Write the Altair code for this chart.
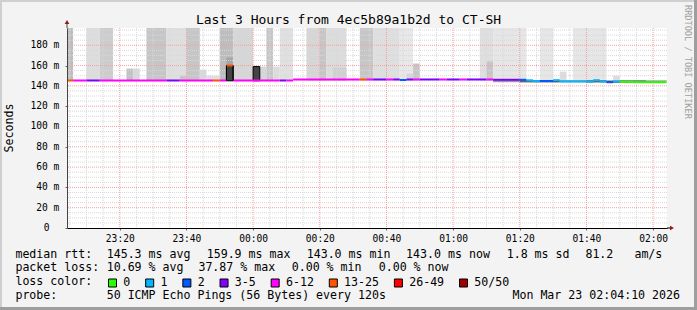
import altair as alt
import pandas as pd

FONT = "DejaVu Sans Mono"
Y_MAX = 197                 # top of the value axis (ms)
T_START = "23:04:10"
T_END = "02:04:10"

# ---------------- smoke (gray RTT spread) ----------------
smoke_start = ["23:04", "23:10", "23:14", "23:22", "23:24", "23:28", "23:34", "23:38", "23:40",
               "23:44", "23:46", "23:50", "23:52", "23:52", "23:54", "00:00", "00:02", "00:04",
               "00:06", "00:08", "00:16", "00:20", "00:22", "00:24", "00:32", "00:36", "00:44",
               "00:46", "00:48", "01:08", "01:10", "01:12", "01:26", "01:32", "01:36", "01:48"]
smoke_end = ["23:06", "23:14", "23:18", "23:24", "23:26", "23:34", "23:40", "23:40", "23:44",
             "23:46", "23:50", "23:54", "23:54", "23:54", "00:00", "00:02", "00:04", "00:06",
             "00:08", "00:12", "00:20", "00:22", "00:28", "00:28", "00:36", "00:44", "00:48",
             "00:48", "00:50", "01:12", "01:12", "01:22", "01:30", "01:34", "01:46", "01:50"]
smoke_lo = [145] * 36
smoke_hi = [200, 200, 200, 157, 157, 200, 200, 150, 200,
            156, 150, 200, 168, 160, 200, 159, 159, 200,
            159, 200, 200, 200, 200, 158, 200, 200, 200,
            152, 162, 200, 164, 200, 200, 154, 200, 150]
smoke_shade = ["#bdbdbd", "#dddddd", "#cccccc", "#c2c2c2", "#d9d9d9", "#c6c6c6", "#dfdfdf", "#c6c6c6", "#c6c6c6",
               "#d9d9d9", "#dfdfdf", "#bdbdbd", "#a6a6a6", "#444444", "#d6d6d6", "#444444", "#d6d6d6", "#c6c6c6",
               "#dcdcdc", "#e0e0e0", "#d6d6d6", "#c6c6c6", "#dcdcdc", "#d0d0d0", "#c6c6c6", "#dfdfdf", "#e8e8e8",
               "#d6d6d6", "#c6c6c6", "#dfdfdf", "#c6c6c6", "#e6e6e6", "#e6e6e6", "#dcdcdc", "#e6e6e6", "#dcdcdc"]

# narrow spread around the median in the last hour
band_start = ["01:12", "01:20", "01:26", "01:32", "01:40", "01:46", "01:50", "01:58"]
band_end = ["01:20", "01:26", "01:32", "01:40", "01:46", "01:50", "01:58", "02:04"]
band_lo = [143.6, 143.4, 143.4, 143.5, 143.3, 143.0, 143.0, 143.0]
band_hi = [146.0, 145.8, 145.6, 145.6, 145.6, 145.2, 145.6, 145.4]
band_shade = ["#9a9a9a", "#666666", "#555555", "#8a8a8a", "#666666", "#555555", "#777777", "#999999"]

# ---------------- median RTT, coloured by packet loss ----------------
med_start = ["23:04", "23:06", "23:10", "23:14", "23:34", "23:38", "23:48", "23:50", "23:52", "23:54",
             "00:08", "00:10", "00:12", "00:32", "00:34", "00:36", "00:40", "00:42", "00:44", "00:46",
             "00:48", "00:50", "00:56", "00:58", "01:02", "01:04", "01:10", "01:12", "01:20", "01:22",
             "01:24", "01:26", "01:30", "01:32", "01:40", "01:42", "01:44", "01:46", "01:48", "01:50",
             "01:54"]
med_end = ["23:06", "23:10", "23:14", "23:34", "23:38", "23:48", "23:50", "23:52", "23:54", "00:08",
           "00:10", "00:12", "00:32", "00:34", "00:36", "00:40", "00:42", "00:44", "00:46", "00:48",
           "00:50", "00:56", "00:58", "01:02", "01:04", "01:10", "01:12", "01:20", "01:22", "01:24",
           "01:26", "01:30", "01:32", "01:40", "01:42", "01:44", "01:46", "01:48", "01:50", "01:54",
           "02:04"]
med_loss = ["13-25", "6-12", "3-5", "6-12", "3-5", "6-12", "13-25", "6-12", "13-25", "6-12",
            "3-5", "6-12", "6-12", "13-25", "6-12", "3-5", "6-12", "3-5", "2", "3-5",
            "6-12", "3-5", "6-12", "3-5", "6-12", "3-5", "6-12", "3-5", "2", "1",
            "1", "2", "1", "1", "1", "1", "1", "2", "1", "0",
            "0"]
med_ms = [145.3, 145.3, 145.3, 145.3, 145.3, 145.3, 145.3, 145.3, 160.0, 145.3,
          145.3, 145.3, 146.3, 146.3, 146.3, 146.3, 146.3, 146.3, 145.8, 146.3,
          146.3, 146.3, 146.3, 146.3, 146.3, 146.3, 146.3, 146.0, 146.0, 145.5,
          144.6, 144.8, 145.6, 144.3, 144.0, 145.6, 144.3, 143.6, 144.3, 144.0,
          143.6]

loss_labels = ["0", "1", "2", "3-5", "6-12", "13-25", "26-49", "50/50"]
loss_colors = ["#26ff00", "#00b8ff", "#0059ff", "#7e00ff", "#ff00ff", "#ff5500", "#ff0000", "#a10000"]

y_ticks = [0, 20, 40, 60, 80, 100, 120, 140, 160, 180]
x_tick_labels = ["23:20", "23:40", "00:00", "00:20", "00:40", "01:00", "01:20", "01:40", "02:00"]

title_text = "Last 3 Hours from 4ec5b89a1b2d to CT-SH"
row1_items = ["median rtt:", "145.3 ms avg", "159.9 ms max", "143.0 ms min", "143.0 ms now",
              "1.8 ms sd", "81.2", "am/s"]
row2_items = ["packet loss:", "10.69 % avg", "37.87 % max", "0.00 % min", "0.00 % now"]
row3_items = ["loss color:"]
row4_items = ["probe:", "50 ICMP Echo Pings (56 Bytes) every 120s"]
date_text = "Mon Mar 23 02:04:10 2026"
credit_text = "RRDTOOL / TOBI OETIKER"

# layout (absolute pixel positions of legend items)
row1_x = [16, 107.3, 207.3, 307.3, 406.7, 507.3, 586, 635]
row2_x = [16, 107.3, 199, 292.3, 379.3]
row3_x = [16]
row4_x = [16, 107.3]
rows_y = [254.5, 268.0, 282.3, 295.7]


def tmin(s):
    p = [int(v) for v in s.split(":")]
    v = p[0] * 60 + p[1] + (p[2] / 60 if len(p) > 2 else 0) - 23 * 60
    return v + 1440 if v < 0 else v


X0, X1 = tmin(T_START), tmin(T_END)
xs = alt.Scale(domain=[X0, X1], nice=False, zero=False)
ys = alt.Scale(domain=[0, Y_MAX], nice=False, zero=True)

smoke_df = pd.DataFrame({
    "a": [max(tmin(s), X0) for s in smoke_start],
    "b": [tmin(s) for s in smoke_end],
    "lo": smoke_lo, "hi": [min(h, Y_MAX) for h in smoke_hi], "shade": smoke_shade,
})
smoke_df["dark"] = [int(s[1:3], 16) < 0x80 for s in smoke_shade]
band_df = pd.DataFrame({
    "a": [tmin(s) for s in band_start], "b": [tmin(s) for s in band_end],
    "lo": band_lo, "hi": band_hi, "shade": band_shade,
})
cmap = dict(zip(loss_labels, loss_colors))
med_df = pd.DataFrame({
    "a": [max(tmin(s), X0) for s in med_start],
    "b": [tmin(s) for s in med_end],
    "ms": med_ms,
    "col": [cmap[l] for l in med_loss],
})
jumps = []
for i in range(len(med_ms) - 1):
    if abs(med_ms[i + 1] - med_ms[i]) > 3:
        jumps.append({"t": tmin(med_end[i]), "lo": min(med_ms[i], med_ms[i + 1]),
                      "hi": max(med_ms[i], med_ms[i + 1])})
jump_df = pd.DataFrame(jumps)

x_axis = alt.Axis(values=[tmin(t) for t in x_tick_labels],
                  labelExpr="timeFormat(datetime(2026,2,22,23,datum.value,0),'%H:%M')",
                  grid=False, title=None, labelFont=FONT, labelFontSize=9.6, labelColor="#000",
                  domainColor="#000", domainWidth=1, tickColor="#666", tickSize=2,
                  labelPadding=3, labelFlush=False, labelOverlap=False, zindex=1)
y_axis = alt.Axis(values=y_ticks, labels=False,
                  grid=False, title=None,
                  domainColor="#444", domainWidth=1, tickColor="#666", tickSize=2, zindex=1)

smoke_light = alt.Chart(smoke_df[~smoke_df["dark"]]).mark_rect(clip=True).encode(
    x=alt.X("a:Q", scale=xs, axis=x_axis),
    x2="b:Q",
    y=alt.Y("lo:Q", scale=ys, axis=y_axis),
    y2="hi:Q",
    color=alt.Color("shade:N", scale=None),
)
smoke_dark = alt.Chart(smoke_df[smoke_df["dark"]]).mark_rect(clip=True, stroke="#000", strokeWidth=1).encode(
    x=alt.X("a:Q", scale=xs), x2="b:Q",
    y=alt.Y("lo:Q", scale=ys), y2="hi:Q",
    color=alt.Color("shade:N", scale=None),
)
band = alt.Chart(band_df).mark_rect(clip=True).encode(
    x=alt.X("a:Q", scale=xs), x2="b:Q",
    y=alt.Y("lo:Q", scale=ys), y2="hi:Q",
    color=alt.Color("shade:N", scale=None),
)

minor_h = [v for v in range(5, Y_MAX, 5) if v % 20]
major_h = [v for v in range(20, Y_MAX, 20)]
minor_v = [v for v in range(5, 185, 5) if v % 20]
major_v = [v for v in range(20, 185, 20)]

g_minor_h = alt.Chart(pd.DataFrame({"v": minor_h})).mark_rule(
    color="#d8d8d8", strokeDash=[1, 1], strokeWidth=1).encode(y=alt.Y("v:Q", scale=ys))
g_major_h = alt.Chart(pd.DataFrame({"v": major_h})).mark_rule(
    color="#f2a0a0", strokeDash=[1, 1], strokeWidth=1).encode(y=alt.Y("v:Q", scale=ys))
g_minor_v = alt.Chart(pd.DataFrame({"v": minor_v})).mark_rule(
    color="#d8d8d8", strokeDash=[1, 1], strokeWidth=1).encode(x=alt.X("v:Q", scale=xs))
g_major_v = alt.Chart(pd.DataFrame({"v": major_v})).mark_rule(
    color="#f2a0a0", strokeDash=[1, 1], strokeWidth=1).encode(x=alt.X("v:Q", scale=xs))

median = alt.Chart(med_df).mark_rule(strokeWidth=2, clip=True).encode(
    x=alt.X("a:Q", scale=xs), x2="b:Q",
    y=alt.Y("ms:Q", scale=ys),
    color=alt.Color("col:N", scale=None),
)
jump = alt.Chart(jump_df).mark_rule(strokeWidth=1, color="#000").encode(
    x=alt.X("t:Q", scale=xs),
    y=alt.Y("lo:Q", scale=ys), y2="hi:Q",
)

ylab_df = pd.DataFrame({"v": y_ticks,
                        "txt": ["0" if v == 0 else f"{v}\u00a0m" for v in y_ticks],
                        "off": [-17.5 if v == 0 else -7.7 for v in y_ticks]})
ylabels = alt.Chart(ylab_df).mark_text(font=FONT, fontSize=9.6, color="#000", align="right",
                                       baseline="middle").encode(
    y=alt.Y("v:Q", scale=ys), x=alt.X("off:Q", scale=None), text="txt:N")

dummy = pd.DataFrame({"k": [0]})
ARROW = "#8b1a1a"
decor = [
    # extended axis lines and arrow heads
    alt.Chart(dummy).mark_rule(color="#444").encode(x=alt.value(0), y=alt.value(0), y2=alt.value(-6)),
    alt.Chart(dummy).mark_rule(color="#000").encode(x=alt.value(600), x2=alt.value(604), y=alt.value(200)),
    alt.Chart(dummy).mark_point(shape="triangle-up", filled=True, color=ARROW, size=22, opacity=1).encode(
        x=alt.value(0), y=alt.value(-6)),
    alt.Chart(dummy).mark_point(shape="triangle-right", filled=True, color=ARROW, size=22, opacity=1).encode(
        x=alt.value(605), y=alt.value(200)),
    # 3-D frame
    alt.Chart(dummy).mark_rect(color="#cfcfcf").encode(
        x=alt.value(-67), x2=alt.value(630), y=alt.value(-28), y2=alt.value(-26)),
    alt.Chart(dummy).mark_rect(color="#cfcfcf").encode(
        x=alt.value(-67), x2=alt.value(-65), y=alt.value(-28), y2=alt.value(282)),
    alt.Chart(dummy).mark_rect(color="#9e9e9e").encode(
        x=alt.value(627), x2=alt.value(630), y=alt.value(-28), y2=alt.value(282)),
    alt.Chart(dummy).mark_rect(color="#9e9e9e").encode(
        x=alt.value(-67), x2=alt.value(630), y=alt.value(279), y2=alt.value(282)),
    # texts
    alt.Chart(dummy).mark_text(text=title_text, font=FONT, fontSize=13, color="#000",
                               align="center", baseline="middle").encode(x=alt.value(281.5), y=alt.value(-8)),
    alt.Chart(dummy).mark_text(text="Seconds", font=FONT, fontSize=11.6, color="#000", angle=270,
                               align="center", baseline="middle").encode(x=alt.value(-57), y=alt.value(100)),
    alt.Chart(dummy).mark_text(text=credit_text, font=FONT, fontSize=8.6, color="#a0a0a0", angle=90,
                               align="left", baseline="middle").encode(x=alt.value(621), y=alt.value(-23)),
    alt.Chart(dummy).mark_text(text=date_text, font=FONT, fontSize=11.6, color="#000",
                               align="right", baseline="middle").encode(x=alt.value(680 - 67), y=alt.value(rows_y[3] - 28)),
]

NB = "\u00a0"
row_layers = []
for items, xpos, yy in zip([row1_items, row2_items, row3_items, row4_items],
                           [row1_x, row2_x, row3_x, row4_x], rows_y):
    for txt, xx in zip(items, xpos):
        row_layers.append(
            alt.Chart(dummy).mark_text(text=txt.replace(" ", NB), font=FONT, fontSize=11.6, color="#000",
                                       align="left", baseline="middle").encode(
                x=alt.value(xx - 0.6 - 67), y=alt.value(yy - 28)))

CW = 6.98
bx = []
cur = 108.5
for lab in loss_labels:
    bx.append(cur)
    cur += len(lab) * CW + 30.2
swatch_layers = []
for b, col, lab in zip(bx, loss_colors, loss_labels):
    swatch_layers.append(alt.Chart(dummy).mark_rect(color=col, stroke="#000", strokeWidth=1).encode(
        x=alt.value(b - 67), x2=alt.value(b - 67 + 8), y=alt.value(279 - 28), y2=alt.value(287 - 28)))
    swatch_layers.append(alt.Chart(dummy).mark_text(text=lab, font=FONT, fontSize=11.6, color="#000",
                                                    align="left", baseline="middle").encode(
        x=alt.value(b - 67 + 14.8), y=alt.value(282.8 - 28)))

chart = alt.layer(
    smoke_light, g_minor_h, g_minor_v, g_major_h, g_major_v, smoke_dark, band, median, jump, ylabels,
    *decor, *row_layers, *swatch_layers
).properties(
    width=600, height=200,
    autosize=alt.AutoSizeParams(type="none"),
    padding={"left": 67, "top": 28, "right": 30, "bottom": 82},
    background="#f3f3f3",
).configure_view(fill="#ffffff", stroke=None)

chart.save("out.html", embed_options={"renderer": "svg", "actions": False})
